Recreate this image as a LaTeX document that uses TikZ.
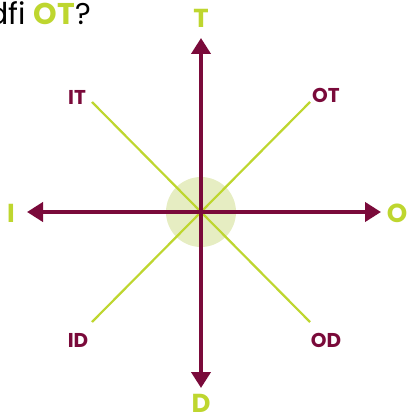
\documentclass[tikz,border=0pt]{standalone}
\usepackage{fontspec}
\setmainfont{Poppins}
\usetikzlibrary{arrows.meta}
\definecolor{bordo}{HTML}{7A0A3A}
\definecolor{lime}{HTML}{BED62F}
\definecolor{halvany}{HTML}{E6EDC2}
\begin{document}
\begin{tikzpicture}[x=1pt,y=-1pt,line cap=butt,>={Triangle[width=19pt,length=16pt]}]
	\tikzset{tengely/.style={draw=bordo,line width=4.5pt},
		atlo/.style={draw=lime,line width=2.2pt},
		irany/.style={text=lime,font=\fontsize{26}{26}\selectfont\bfseries,inner sep=0pt},
		kozep/.style={text=bordo,font=\fontsize{20}{20}\selectfont\bfseries,inner sep=0pt}
	}
	\useasboundingbox (0,0) rectangle (408,414);
	\coordinate (c) at (201,212);
	\fill[halvany] (c) circle (35);
	% kerdes
	\node[anchor=base west,inner sep=0pt,font=\fontsize{30}{30}\selectfont] (kerdes) at (-12,25) {dfi \textcolor{lime}{\bfseries OT}?};
	% atlok
	\coordinate (it) at (92,102);
	\coordinate (ot) at (310,102);
	\coordinate (id) at (92,322);
	\coordinate (od) at (310,322);
	\draw[atlo] (it) -- (od);
	\draw[atlo] (ot) -- (id);
	% tengelyek
	\coordinate (tT) at (201,38);
	\coordinate (tD) at (201,388);
	\coordinate (tI) at (27,212);
	\coordinate (tO) at (381,212);
	\draw[tengely,<->] (tI) -- (tO);
	\draw[tengely,<->] (tD) -- (tT);
	% feliratok
	\node[irany] (T) at (201,18) {T};
	\node[irany] (D) at (201,403) {D};
	\node[irany] (I) at (11,213) {I};
	\node[irany] (O) at (397,213) {O};
	\node[kozep] (IT) at (77,97) {IT};
	\node[kozep] (OT) at (326,95) {OT};
	\node[kozep] (ID) at (78,340) {ID};
	\node[kozep] (OD) at (326,340) {OD};
\end{tikzpicture}
\end{document}
